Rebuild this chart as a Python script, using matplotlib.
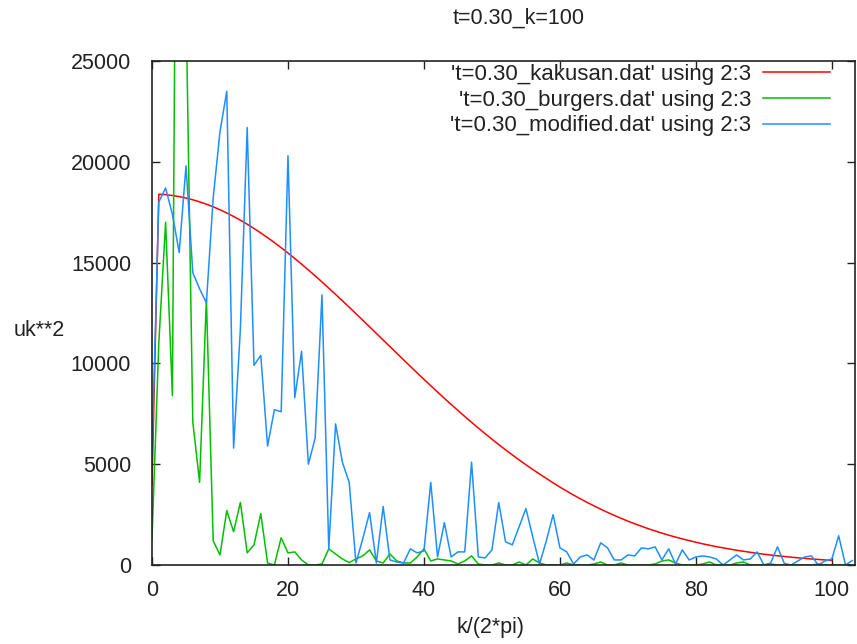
import matplotlib
matplotlib.use("Agg")
import matplotlib.pyplot as plt

# ---- data ----
k_vals = list(range(104))
k_red = list(range(101))

kakusan = [4000, 18392, 18368, 18328, 18273, 18202, 18116, 18014, 17898, 17767,
           17621, 17462, 17289, 17103, 16905, 16694, 16471, 16238, 15994, 15740,
           15476, 15204, 14924, 14636, 14342, 14041, 13734, 13423, 13108, 12789,
           12466, 12142, 11815, 11488, 11160, 10832, 10504, 10178, 9853, 9530,
           9210, 8893, 8580, 8270, 7965, 7665, 7369, 7078, 6793, 6514,
           6241, 5974, 5713, 5460, 5213, 4973, 4740, 4514, 4295, 4075,
           3865, 3665, 3470, 3285, 3105, 2935, 2770, 2610, 2460, 2315,
           2175, 2045, 1920, 1800, 1690, 1580, 1480, 1385, 1295, 1210,
           1130, 1050, 980, 910, 850, 790, 730, 680, 630, 580,
           535, 495, 458, 422, 388, 357, 328, 300, 275, 250,
           228]

burgers = [1300, 11000, 17000, 8400, 60000, 28000, 7100, 4100, 13200, 1200,
           500, 2700, 1650, 3100, 600, 1000, 2550, 100, 0, 1350,
           600, 650, 250, 0, 0, 50, 800, 550, 300, 120,
           300, 450, 750, 200, 100, 550, 200, 100, 100, 400,
           800, 200, 300, 250, 200, 50, 200, 450, 50, 0,
           0, 100, 0, 0, 150, 0, 300, 100, 0, 0,
           0, 100, 0, 0, 0, 50, 150, 0, 0, 100,
           0, 0, 0, 0, 50, 200, 250, 100, 0, 0,
           0, 50, 150, 0, 0, 0, 100, 150, 0, 0,
           0, 50, 0, 0, 0, 0, 0, 0, 50, 0,
           0, 0, 0, 0]

modified = [5500, 18000, 18700, 17400, 15500, 19800, 14500, 13700, 13000, 18200,
            21500, 23500, 5800, 11700, 21700, 9900, 10400, 5900, 7700, 7600,
            20300, 8300, 10600, 5000, 6300, 13400, 800, 7000, 5100, 4100,
            100, 1300, 2600, 100, 2900, 250, 150, 100, 800, 600,
            700, 4100, 400, 2100, 400, 650, 650, 5100, 400, 350,
            750, 3100, 1150, 1000, 1900, 2800, 1400, 50, 1200, 2500,
            850, 650, 50, 400, 500, 250, 1100, 850, 250, 250,
            500, 450, 850, 800, 900, 250, 800, 50, 750, 250,
            400, 450, 400, 300, 0, 250, 500, 250, 300, 650,
            0, 100, 900, 80, 0, 200, 400, 450, 0, 200,
            300, 1450, 0, 220]

labels = ["'t=0.30_kakusan.dat' using 2:3",
          "'t=0.30_burgers.dat' using 2:3",
          "'t=0.30_modified.dat' using 2:3"]
colors = ["#ff0000", "#00c000", "#1e8fff"]

xticks = [0, 20, 40, 60, 80, 100]
yticks = [0, 5000, 10000, 15000, 20000, 25000]

plt.rcParams['font.family'] = ['Liberation Sans', 'DejaVu Sans']
FS = 15.5
LFS = 16

W, H = 857, 644
fig = plt.figure(figsize=(W / 100, H / 100), dpi=100)
ax = fig.add_axes([152 / W, 1 - 565 / H, (855 - 152) / W, (565 - 61) / H])

ax.plot(k_red, kakusan, color=colors[0], lw=1.1, label=labels[0])
ax.plot(k_vals, burgers, color=colors[1], lw=1.1, label=labels[1])
ax.plot(k_vals, modified, color=colors[2], lw=1.1, label=labels[2])

ax.set_xlim(0, 103.4)
ax.set_ylim(0, 25000)
ax.set_xticks(xticks)
ax.set_yticks(yticks)
ax.set_xticklabels([str(v) for v in xticks], fontsize=FS, color="#222222")
ax.set_yticklabels([str(v) for v in yticks], fontsize=FS, color="#222222")
ax.tick_params(direction="in", length=6, width=1, top=True, right=True,
               colors="#222222")
ax.tick_params(axis="y", pad=15)
ax.tick_params(axis="x", pad=11)
for s in ax.spines.values():
    s.set_linewidth(1.2)
    s.set_color("#222222")

fig.text(519 / W, 1 - 18 / H, "t=0.30_k=100", ha="center", va="center",
         fontsize=FS, color="#222222")
fig.text(490 / W, 1 - 628 / H, "k/(2*pi)", ha="center", va="center",
         fontsize=FS, color="#222222")
fig.text(39 / W, 1 - 330 / H, "uk**2", ha="center", va="center",
         fontsize=FS, color="#222222")

leg = ax.legend(loc="upper right", bbox_to_anchor=(830 / W, 1 - 64 / H),
                bbox_transform=fig.transFigure, frameon=False, markerfirst=False,
                fontsize=LFS, handlelength=3.0, handletextpad=0.55,
                labelspacing=0.21, borderpad=0, borderaxespad=0)
for t in leg.get_texts():
    t.set_color("#222222")

fig.savefig("out.png", dpi=100)
